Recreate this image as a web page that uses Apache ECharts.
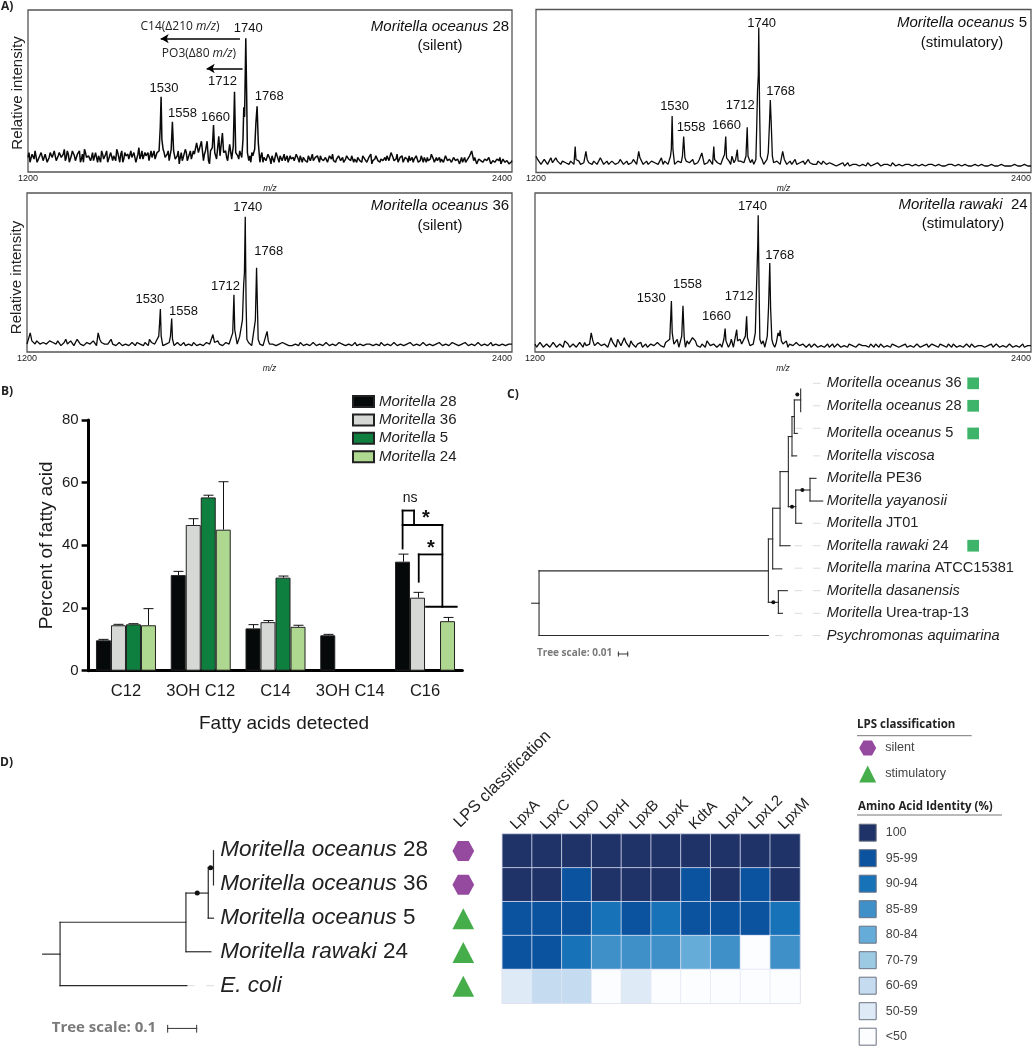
<!DOCTYPE html>
<html><head><meta charset="utf-8">
<script src="https://cdn.jsdelivr.net/npm/echarts@6/dist/echarts.min.js"></script>
<style>html,body{margin:0;padding:0;background:#fff}#c{width:1034px;height:1050px}</style>
</head><body><div id="c"></div>
<script>
// ---------- Panel A: spectra (m/z vs relative intensity) ----------
const spec28Base=[9,6,11,8,12,5,10,13,8,11,7,12,9,13,7,10,12,8,14,9,11,7,13,10,8,12,6,11,14,9,10,7,12,8,13,10,6,11,9,13,8,12,7,10,14,9,11,6,12,10,8,13,9,11,7,15,10,8,12,9,7,13,11,8,12,6,10,14,9,11,7,12,16,8,10,5,12,9,14,7,11,8,13,10,6,12,9,7,13,10,5,11,8,14,9,12,4,10,13,7,11,8,12,6,10,13,9,7,11,5,10,12,8,11,9,6,12,9,7,11,8,10,6,12,8,10,7,11,8,6,10,9,7,11,8,10,6,9,8,10,7,11,6,9,8,10,7,8,10,6,9,11,7,8,10,7,9,6,10,8,7,11,8,6,9,7,10,8,6,9,11,7,8,10,6,8,7,9,10,7,6,9,8,11,7,8,6,9,8,10,7,6,9,8,7,10,6,8,9,7,11,8,6,7,9,8,6,10,7,8,6,9,7,8,5,9,7,6,8,10,6,7,8,5,9,7,6,8,6,7,5,8,6,7,9,5,7,6,8,5,7];
const spec28Fine=[12,7,10,13,6,9,12,7,11,6,9,13,8,10,6,12,9,11,7,13,6,10,12,7,11,13,8,6,12,8,11,9,7,12,6,10,13,8,11,6,9,12,10,7,12,6,13,8,10,11,7,9,12,6,11,8,13,7,10,12,6,9,13,7,11,9,6,12,8,13,9,6,11,7,13,9,7,10,12,6,13,9,11,7,12,8,6,11,9,7,13,6,10,8,12,7,11,5,9,13,6,10,7,12,8,11,6,9,12,7,6,10,8,9,7,10,6,9,8,10,5,9,7,10,6,9,8,7,10,5,8,9,7,10,6,8,9,7,6,10,8,7,9,10,6,8,7,9,6,10,8,7,6,9,10,7,6,8,9,7,10,6,8,9,7,6,10,8,7,9,5,8,10,7,6,9,8,7,10,6,9,7,8,6,9,10,7,8,6,7,9,8,10,6,7,8,9,6,7,8,10,6,9,7,6,8,7,9,6,8,7,10,6,8,7,6,9,7,8,6,7,9,5,8,7,6,8,7,9,5,7,6,8,7,5,8,6,7,5,6];
const spec28Peaks=[[1525,13],[1528,28],[1530,46.4],[1532,20],[1555,14],[1558,31],[1561,13],[1618,18],[1630,19],[1644,19],[1657,15],[1660,29],[1663,12],[1673,22],[1676,10],[1682,24],[1685,12],[1700,17],[1709,16],[1712,49.5],[1715,12],[1733,20],[1735,40],[1737,34],[1740,82.5],[1742,50],[1744,12],[1762,14],[1765,30],[1768,40.6],[1771,18],[2100,12],[2300,13]];
const spec28Labels=[[1746,88.7,1740],[1537,51.9,1530],[1583,36.1,1558],[1665,33.6,1660],[1682,55.7,1712],[1798,46.4,1768]];
const spec5Base=[10,7,6,8,7,6,9,6,7,6,5,8,6,7,5,6,6,5,7,6,8,6,5,7,5,6,7,6,5,6,8,6,7,6,5,7,6,5,6,7,5,6,5,7,6,5,8,6,5,6,7,5,6,7,5,6,5,7,6,5,6,5,7,6,9,6,5,7,6,5,8,5,6,7,5,6,5,7,6,5,6,7,5,6,5,5,6,7,5,6,5,4,5,6,5,4,5,5,4,5,4,5,5,4,5,5,4,5,6,4,5,4,5,5,4,5,4,5,4,5,5,4,5,4,4,5,5,4,5,4,5,4,4,5,4,5,4,4,5,4,4,5,4,4,4,5,4,4,5,4,4];
const spec5Fine=[8,5,8,5,9,5,7,5,8,5,7,5,9,5,6,8,5,7,5,9,5,7,6,8,5,8,5,7,6,8,5,9,5,7,6,8,5,7,5,8,6,7,5,8,5,7,6,8,5,8,6,5,8,5,7,6,8,5,7,6,8,5,6,7,5,8,6,5,8,6,5,7,6,8,5,7,6,5,8,5,7,5,8,6,5,7,5,8,6,5,6,5,5,4,6,5,4,6,5,4,6,4,5,6,4,5,5,4,6,5,4,5,6,4,5,5,4,6,5,4,5,4,6,5,4,5,5,4,6,5,4,5,5,4,5,4,5,5,4,5,5,4,5,5,4,4,5,4,4,5];
const spec5Peaks=[[1295,16],[1297,8],[1321,13],[1449,13],[1504,9],[1526,10],[1528,14],[1530,34.7],[1532,14],[1555,10],[1558,22],[1561,9],[1602,12],[1631,16],[1633,8],[1657,11],[1660,22],[1662,9],[1675,10],[1688,14],[1690,7],[1709,10],[1712,27.8],[1714,10],[1733,8],[1735,27],[1737,50],[1739,60],[1740,89],[1742,40],[1744,10],[1763,12],[1766,30],[1768,44.5],[1770,32],[1773,10],[1798,13],[1802,8]];
const spec5Labels=[[1747,91.4,1740],[1536,40.4,1530],[1576,27.8,1558],[1662,28.8,1660],[1695,41,1712],[1793,49.6,1768]];
const spec36Base=[5,12,6,7,5,6,5,7,6,5,6,5,8,5,6,5,9,6,5,7,5,6,12,6,5,5,8,6,5,5,4,5,4,5,6,5,4,5,5,6,4,5,4,5,6,5,4,7,5,4,5,4,5,5,4,5,6,4,5,7,5,5,6,4,5,5,5,6,4,5,5,4,5,4,5,5,5,4,5,6,5,4,4,5,4,5,5,4,5,5,4,5,5,5,4,5,4,5,5,4,5,5,4,5,4,5,5,4,5,4,5,5,4,5,5,4,5,4,5,5,4,5,4,5,5,5,4,5,5,4,5,4,5,6,4,5,5,4,5,4,5,5,4,5,4,5,4,5,4,5,5];
const spec36Fine=[4,7,5,8,4,7,4,6,5,7,4,6,5,7,4,8,5,4,6,5,7,4,8,5,6,4,5,4,6,4,5,4,6,4,5,4,6,4,6,5,4,6,5,4,5,4,6,4,6,5,4,6,4,5,4,6,5,4,6,5,4,6,5,4,6,4,5,4,6,4,5,4,6,5,4,6,4,5,4,5,6,4,5,4,6,4,5,4,6,4,5,4,6,4,5,4,6,5,4,5,4,6,4,5,4,6,4,5,4,6,4,5,4,6,4,5,4,5,6,4,5,4,6,4,5,4,5,6,4,5,4,6,5,4,5,6,4,5,4,6,4,5,4,6,4,5,4,6,4,5];
const spec36Peaks=[[1503,8],[1526,10],[1528,18],[1530,27],[1532,10],[1555,10],[1558,21],[1560,8],[1660,11],[1664,6],[1709,12],[1712,36],[1714,14],[1726,9.5],[1733,20],[1736,42],[1738,50],[1740,85],[1742,32],[1744,8],[1765,20],[1768,53],[1770,30],[1772,8],[1794,13],[1797,7]];
const spec36Labels=[[1746,91,1740],[1504,33,1530],[1587,25.7,1558],[1691,41,1712],[1798,63,1768]];
const spec24Base=[5,3,6,4,5,3,6,4,5,7,5,4,6,4,5,6,3,12,4,6,4,5,3,9,5,8,4,9,5,7,4,5,6,4,3,5,4,6,4,3,5,6,5,8,4,5,7,6,5,4,3,5,7,4,5,3,5,6,4,5,3,6,8,4,5,4,5,7,5,7,4,3,5,6,4,5,7,5,4,6,4,5,3,5,4,6,3,5,4,3,5,4,5,3,4,5,4,3,5,4,4,3,4,5,3,4,4,3,5,4,3,4,5,4,3,4,5,4,4,3,5,4,3,4,4,5,3,4,4,3,4,4,5,3,4,4,3,4,5,3,4,4,3,4,4,3,4,4,3,4,4];
const spec24Fine=[3,6,3,5,3,6,3,5,3,6,3,5,3,6,3,4,5,7,3,5,3,6,4,6,3,6,3,6,3,5,3,6,3,5,4,6,3,5,3,6,3,4,6,3,6,3,5,3,7,3,5,3,6,3,6,4,3,5,3,6,4,3,5,3,6,3,6,3,5,3,6,4,3,5,3,6,3,6,3,5,3,6,4,3,5,3,4,3,5,4,3,5,3,4,3,5,3,4,5,3,4,5,3,4,5,3,4,3,5,3,4,5,3,4,3,5,3,4,5,3,4,3,5,4,3,4,5,3,4,3,5,3,4,3,5,4,3,4,3,5,3,4,3,5,3,4,3,5,3,4];
const spec24Peaks=[[1526,8],[1528,20],[1530,32],[1532,12],[1555,10],[1558,29],[1561,9],[1581,9],[1584,8],[1657,8],[1660,14.7],[1662,7],[1675,8],[1688,14],[1690,7],[1709,10],[1712,22.5],[1714,9],[1733,12],[1735,32],[1737,50],[1739,68],[1740,86],[1742,42],[1744,8],[1762,10],[1765,28],[1768,56],[1770,28],[1773,8],[1788,12],[1791,10],[1793,13.7],[1796,7]];
const spec24Labels=[[1726,91.6,1740],[1481,34,1530],[1569,42.5,1558],[1639,22.5,1660],[1694,34.7,1712],[1792,60.6,1768]];
const deltaArrows=[[1725.5,82.3,1529,82.3],[1732,63.9,1643,63.9]];

// ---------- Panel B: fatty acids ----------
const fattyAcids=['C12','3OH C12','C14','3OH C14','C16'];
const strainNames=['Moritella 28','Moritella 36','Moritella 5','Moritella 24'];
const m28Values=[9.7,30.5,13.5,11.3,34.8];
const m36Values=[14.5,46.5,15.5,null,23.3];
const m5Values=[14.8,55.3,29.7,null,null];
const m24Values=[14.5,45,14,null,15.8];
const m28Upper=[10,31.7,14.7,11.6,37.2];
const m36Upper=[14.8,48.5,16,null,25];
const m5Upper=[15,56,30.2,null,null];
const m24Upper=[19.8,60.3,14.5,null,17];
const strainColors=['#050909','#d6d8d6','#0f7f40','#aed790'];
const bracketSegs=[[4.2,39,4.2,51.1],[4.2,51.1,4.353,51.1],[4.353,51.1,4.353,46.5],[4.2,46.5,4.732,46.5],[4.732,46.5,4.732,20.4],[4.514,20.4,4.924,20.4],[4.416,28.4,4.416,37.1],[4.416,37.1,4.732,37.1]];
const bracketText=[[4.3,55,'ns',14,'normal'],[4.51,48.5,'*',20,'bold'],[4.58,39,'*',20,'bold']];

// ---------- Panel C: tree (x in 0.01 substitutions, y in leaf rows) ----------
const treeCSegs=[[0,9.79,0.79,9.79],[0.79,8.35,0.79,11.23],[0.79,8.35,25.36,8.35],[0.79,11.23,25.36,11.23],[25.36,6.93,25.36,9.75],[25.36,6.93,25.82,6.93],[25.36,9.75,26.43,9.75],[25.82,5.56,25.82,8.26],[25.82,8.26,26.79,8.26],[25.82,5.56,26.61,5.56],[26.61,3.93,26.61,7.23],[26.61,7.23,27.68,7.23],[26.61,3.93,27.5,3.93],[27.5,2.37,27.5,5.49],[27.5,2.37,27.89,2.37],[27.5,5.49,28.29,5.49],[27.89,1.48,27.89,3.23],[27.89,1.48,28.14,1.48],[27.89,3.23,28.39,3.23],[28.14,0.74,28.14,2.23],[28.14,0.74,28.82,0.74],[28.14,2.23,28.46,2.23],[28.82,0.25,28.82,1.26],[28.29,4.75,28.29,6.23],[28.29,4.75,29.82,4.75],[28.29,6.23,28.93,6.23],[29.82,4.23,29.82,5.24],[29.82,4.23,30.46,4.23],[29.82,5.24,31.18,5.24],[26.43,9.23,26.43,10.24],[26.43,9.23,27.39,9.23],[26.43,10.24,26.86,10.24]];
const treeCDashes=[[30.18,0,30.89,0],[30.18,1,30.89,1],[28.29,2,28.93,2],[30.18,2,30.89,2],[30.18,3.23,30.89,3.23],[30.18,6.23,30.89,6.23],[28.21,7.23,28.93,7.23],[30.18,7.23,30.89,7.23],[28.21,8.23,28.93,8.23],[30.18,8.23,30.89,8.23],[28.21,9.23,28.93,9.23],[30.18,9.23,30.89,9.23],[28.21,10.24,28.93,10.24],[30.18,10.24,30.89,10.24],[26.14,11.23,26.86,11.23],[28.21,11.23,28.93,11.23],[30.18,11.23,30.89,11.23]];
const treeCDots=[[28.46,0.5],[29,4.75],[27.89,5.49],[25.89,9.75]];
const treeCScale=[[9.29,12.05,10.29,12.05],[9.29,11.96,9.29,12.14],[10.29,11.96,10.29,12.14]];
const treeCLeaves=[['{i|Moritella oceanus} 36',0],['{i|Moritella oceanus} 28',1],['{i|Moritella oceanus} 5',2.23],['{i|Moritella viscosa}',3.23],['{i|Moritella} PE36',4.23],['{i|Moritella yayanosii}',5.24],['{i|Moritella} JT01',6.23],['{i|Moritella rawaki} 24',7.23],['{i|Moritella marina} ATCC15381',8.23],['{i|Moritella dasanensis}',9.23],['{i|Moritella} Urea-trap-13',10.24],['{i|Psychromonas aquimarina}',11.23]];
const treeCMarks=[[47.3,0],[47.3,1],[47.3,2.23],[47.3,7.23]];

// ---------- Panel D ----------
const treeDSegs=[[0,3.07,0.6,3.07],[0.6,2.13,0.6,4],[0.6,2.13,4.94,2.13],[0.6,4,4.97,4],[4.94,1.27,4.94,3],[4.94,1.27,5.71,1.27],[4.94,3,5.8,3],[5.71,0.52,5.71,2.01],[5.71,0.52,5.89,0.52],[5.71,2.01,5.89,2.01],[5.89,0.02,5.89,1.03]];
const treeDDashes=[[4.99,4,5.22,4],[5.66,4,5.89,4]];
const treeDDots=[[5.33,1.27],[5.79,0.52]];
const treeDScale=[[4.31,5.26,5.31,5.26],[4.31,5.17,4.31,5.37],[5.31,5.17,5.31,5.37]];
const treeDLeaves=[['{i|Moritella oceanus} 28',0],['{i|Moritella oceanus} 36',1],['{i|Moritella oceanus} 5',2],['{i|Moritella rawaki} 24',3],['{i|E. coli}',4]];
const genes=['LpxA','LpxC','LpxD','LpxH','LpxB','LpxK','KdtA','LpxL1','LpxL2','LpxM'];
const species=['Moritella oceanus 28','Moritella oceanus 36','Moritella oceanus 5','Moritella rawaki 24','E. coli'];
const identity28=[100,100,100,100,100,100,100,100,100,100];
const identity36=[100,100,97,100,100,100,97,100,97,100];
const identity5=[97,97,97,92,97,92,97,97,97,92];
const identity24=[97,97,92,87,87,87,82,87,45,87];
const identityEcoli=[55,65,65,40,55,40,40,40,40,40];
const lpsClass=['silent','silent','stimulatory','stimulatory','stimulatory'];
const identityLabels=['100','95-99','90-94','85-89','80-84','70-79','60-69','50-59','<50'];
const identityColors=['#1f3368','#0b539f','#1872b8','#3f90c8','#66acd8','#9ccae3','#c5dbef','#deeaf6','#fbfdff'];

// ---------- helpers ----------
const SANS='"Liberation Sans",Arial,sans-serif', BOLD='"Open Sans",sans-serif';
const HEX='path://M0 50 L25 0 L75 0 L100 50 L75 100 L25 100 Z';
const grid=[],xAxis=[],yAxis=[],series=[],graphic=[];
function addGrid(g,x,y){grid.push(g);xAxis.push(Object.assign({gridIndex:grid.length-1},x));yAxis.push(Object.assign({gridIndex:grid.length-1},y));return grid.length-1;}
function hiddenValue(min,max,inverse){return {type:'value',min,max,inverse:!!inverse,show:false,splitLine:{show:false}};}
function note(text,x,y,o){o=o||{};graphic.push({type:'text',x,y,silent:true,style:{text,align:o.align||'left',verticalAlign:'middle',fill:o.color||'#111',fontSize:o.size||14,fontFamily:o.family||SANS,fontWeight:o.weight||'normal',rich:{i:{fontStyle:'italic',fontSize:o.size||14,fontFamily:o.family||SANS,fill:o.color||'#111'}}}});}
function rule(x1,y,x2){graphic.push({type:'line',silent:true,shape:{x1,y1:y,x2,y2:y},style:{stroke:'#777',lineWidth:1}});}
function mergeSpectrum(base,fine,step,peaks){
  const coarse=base.map((v,i)=>[1200+i*step,v]);
  const between=fine.map((v,i)=>[1200+(i+0.5)*step,v]);
  const pts=coarse.concat(between).filter(p=>!peaks.some(q=>Math.abs(q[0]-p[0])<3));
  return pts.concat(peaks).sort((a,b)=>a[0]-b[0]);
}
function segmentSeries(g,data,color,width,z){
  series.push({type:'custom',xAxisIndex:g,yAxisIndex:g,data,silent:true,z:z||3,encode:{x:[0,2],y:[1,3]},animation:false,
    renderItem(p,api){const a=api.coord([api.value(0),api.value(1)]),b=api.coord([api.value(2),api.value(3)]);
      return {type:'line',shape:{x1:a[0],y1:a[1],x2:b[0],y2:b[1]},style:{stroke:color,lineWidth:width,lineCap:'square'}};}});
}
function textSeries(g,data,size,color,family,weight,pos,dist){
  series.push({type:'scatter',xAxisIndex:g,yAxisIndex:g,data,symbolSize:1,silent:true,itemStyle:{color:'transparent',opacity:1},z:5,
    label:{show:true,position:pos||'inside',distance:dist==null?0:dist,formatter:p=>p.data[2],fontSize:size,color,fontFamily:family||SANS,fontWeight:weight||'normal',
      rich:{i:{fontStyle:'italic',fontSize:size,color,fontFamily:family||SANS}}}});
}
function spectrum(box,base,fine,step,peaks,labels,axisName,lineWidth,namePad,arrows){
  const g=addGrid({left:box[0],top:box[1],width:box[2],height:box[3],show:true,borderColor:'#555',borderWidth:1.3,backgroundColor:'#fff'},
    {type:'value',min:1200,max:2400,interval:1200,name:'m/z',nameLocation:'middle',nameGap:6,nameTextStyle:{fontStyle:'italic',fontSize:8.5,color:'#222',fontFamily:SANS},
     axisLine:{show:false},axisTick:{show:false},splitLine:{show:false},axisLabel:{fontSize:9,color:'#222',fontFamily:SANS,margin:2,alignMaxLabel:'right',formatter:v=>String(v)}},
    {type:'value',min:0,max:100,name:axisName,nameLocation:'middle',nameGap:3,nameTextStyle:{fontSize:15,color:'#222',fontFamily:SANS,padding:[0,namePad,0,0]},axisLine:{show:false},axisTick:{show:false},splitLine:{show:false},axisLabel:{show:false}});
  const s={type:'line',xAxisIndex:g,yAxisIndex:g,data:mergeSpectrum(base,fine,step,peaks),showSymbol:false,symbol:'none',silent:true,lineStyle:{color:'#0a0a0a',width:lineWidth},z:3};
  if(arrows){s.markLine={silent:true,symbol:['none','arrow'],symbolSize:[7,8],label:{show:false},lineStyle:{color:'#000',width:1.5,type:'solid'},
    data:arrows.map(a=>[{coord:[a[0],a[1]]},{coord:[a[2],a[3]]}])};}
  series.push(s);
  textSeries(g,labels.map(l=>[l[0],l[1],String(l[2])]),13,'#111');
}

// ---------- Panel A ----------
spectrum([28,10,484,162],spec28Base,spec28Fine,5,spec28Peaks,spec28Labels,'Relative intensity',1.5,4,deltaArrows);
spectrum([536,9.5,497,163],spec5Base,spec5Fine,8,spec5Peaks,spec5Labels,'',1.3,0);
spectrum([27,193,485,159],spec36Base,spec36Fine,8,spec36Peaks,spec36Labels,'Relative intensity',1.3,10);
spectrum([535,193,498,159],spec24Base,spec24Fine,8,spec24Peaks,spec24Labels,'',1.3,0);
note('{i|Moritella oceanus} 28',440,26.7,{size:15,align:'center'});note('(silent)',440,45.7,{size:15,align:'center'});
note('{i|Moritella oceanus} 5',962,23,{size:15,align:'center'});note('(stimulatory)',962,43,{size:15,align:'center'});
note('{i|Moritella oceanus} 36',440,206,{size:15,align:'center'});note('(silent)',440,225.7,{size:15,align:'center'});
note('{i|Moritella rawaki}  24',963,205,{size:15,align:'center'});note('(stimulatory)',963,224,{size:15,align:'center'});
note('C14(Δ210 {i|m/z})',180,27,{size:12,align:'center',family:'"Open Sans",sans-serif',color:'#222'});
note('PO3(Δ80 {i|m/z})',199,54,{size:12,align:'center',family:'"Open Sans",sans-serif',color:'#222'});

// panel labels
[['A)',1,7],['B)',1,392],['C)',507,395],['D)',0,763]].forEach(l=>note(l[0],l[1],l[2],{size:12,weight:'bold',family:BOLD,color:'#222'}));

// ---------- Panel B ----------
const gB=addGrid({left:88.6,top:420,width:373.8,height:250.7},
  {type:'category',data:fattyAcids,axisLine:{lineStyle:{color:'#000',width:3}},axisTick:{alignWithLabel:true,length:8,lineStyle:{color:'#000',width:2.5}},
   axisLabel:{fontSize:16.5,color:'#1a1a1a',fontFamily:SANS,margin:12,interval:0},name:'Fatty acids detected',nameLocation:'middle',nameGap:44,
   nameTextStyle:{fontSize:19,color:'#1a1a1a',fontFamily:SANS,padding:[0,0,0,17]}},
  {type:'value',min:0,max:80,interval:20,splitLine:{show:false},axisLine:{show:true,lineStyle:{color:'#000',width:3}},axisTick:{show:true,length:7,lineStyle:{color:'#000',width:2.5}},
   axisLabel:{fontSize:15,color:'#1a1a1a',fontFamily:SANS,margin:10},name:'Percent of fatty acid',nameLocation:'middle',nameGap:32,nameTextStyle:{fontSize:19,color:'#1a1a1a',fontFamily:SANS}});
const barW=15;
[m28Values,m36Values,m5Values,m24Values].forEach((vals,i)=>{
  series.push({type:'bar',name:strainNames[i],xAxisIndex:gB,yAxisIndex:gB,data:vals,barWidth:barW,barGap:0,itemStyle:{color:strainColors[i],borderColor:'#222',borderWidth:1},z:2,silent:true});
});
[m28Upper,m36Upper,m5Upper,m24Upper].forEach((ups,k)=>{
  const low=[m28Values,m36Values,m5Values,m24Values][k];
  series.push({type:'custom',xAxisIndex:gB,yAxisIndex:gB,silent:true,z:1,encode:{x:0,y:[1,2]},
    data:ups.map((u,i)=>u==null?null:[i,low[i],u]).filter(Boolean),
    renderItem(p,api){const a=api.coord([api.value(0),api.value(1)]),b=api.coord([api.value(0),api.value(2)]);const x=Math.round(a[0]+(k-1.5)*barW)+0.5;
      return {type:'group',children:[{type:'line',shape:{x1:x,y1:a[1],x2:x,y2:b[1]},style:{stroke:'#111',lineWidth:1}},{type:'line',shape:{x1:x-5,y1:b[1],x2:x+5,y2:b[1]},style:{stroke:'#111',lineWidth:1}}]};}});
});
// overlay value scale on the same rectangle, for the significance brackets
const gBo=addGrid({left:88.6,top:420,width:373.8,height:250.7},hiddenValue(0,5),hiddenValue(0,80));
segmentSeries(gBo,bracketSegs,'#000',1.8,6);
bracketText.forEach(t=>textSeries(gBo,[[t[0],t[1],t[2]]],t[3],'#111',SANS,t[4]));

// ---------- Panel C ----------
const gC=addGrid({left:531.67,top:383.33,width:466.7,height:292},hiddenValue(0,50),hiddenValue(0,13,true));
segmentSeries(gC,treeCDashes,'#dcdcdc',1);
segmentSeries(gC,treeCSegs,'#2b2b2b',1.1);
segmentSeries(gC,treeCScale,'#333',1);
series.push({type:'scatter',xAxisIndex:gC,yAxisIndex:gC,data:treeCDots,symbolSize:4,itemStyle:{color:'#111',opacity:1},silent:true,z:4});
series.push({type:'scatter',xAxisIndex:gC,yAxisIndex:gC,data:treeCMarks,symbol:'rect',symbolSize:11.7,itemStyle:{color:'#3eb46b',opacity:1},silent:true,z:4});
textSeries(gC,treeCLeaves.map(l=>[31.57,l[1],l[0]]),14.6,'#222',SANS,'normal','right',0);
textSeries(gC,[[8.68,12.03,'Tree scale: 0.01']],10,'#7a7a7a',BOLD,'bold','left',0);

// ---------- Panel D ----------
const gD=addGrid({left:42.67,top:850,width:290,height:186.56},hiddenValue(0,10),hiddenValue(0,5.5,true));
segmentSeries(gD,treeDDashes,'#dcdcdc',1);
segmentSeries(gD,treeDSegs,'#2b2b2b',1.2);
segmentSeries(gD,treeDScale,'#333',1);
series.push({type:'scatter',xAxisIndex:gD,yAxisIndex:gD,data:treeDDots,symbolSize:5,itemStyle:{color:'#111',opacity:1},silent:true,z:4});
textSeries(gD,treeDLeaves.map(l=>[6.11,l[1],l[0]]),22.5,'#222',SANS,'normal','right',0);
textSeries(gD,[[3.93,5.25,'Tree scale: 0.1']],15,'#7a7a7a',BOLD,'bold','left',0);

// LPS class column
const hiddenRows={type:'category',data:species,inverse:true,axisLine:{show:false},axisTick:{show:false},axisLabel:{show:false},splitLine:{show:false}};
function headerAxis(left,width,cats,size,margin){
  addGrid({left,top:834,width,height:169.3},
    {type:'category',position:'top',data:cats,axisLine:{show:false},axisTick:{show:false},axisLabel:{rotate:-45,fontSize:size,color:'#222',fontFamily:SANS,margin,interval:0}},hiddenRows);
}
const silentAxis=o=>Object.assign({axisLine:{show:false},axisTick:{show:false},axisLabel:{show:false}},o);
headerAxis(441.8,30,['LPS classification'],16.5,9);
const gL=addGrid({left:448.3,top:834,width:30,height:169.3},silentAxis({type:'category',position:'top',data:['LPS classification']}),hiddenRows);
series.push({type:'scatter',xAxisIndex:gL,yAxisIndex:gL,silent:true,z:4,
  data:lpsClass.map((c,i)=>({value:['LPS classification',species[i]],symbol:c==='silent'?HEX:'triangle',symbolSize:c==='silent'?[21.7,20]:[21.7,21],itemStyle:{color:c==='silent'?'#954a9f':'#45ae4a',opacity:1}}))});

// Heatmap
headerAxis(498.3,297.7,genes,15,7);
const gH=addGrid({left:502.3,top:834,width:297.7,height:169.3,show:true,borderColor:'#c8c8c8',borderWidth:1},silentAxis({type:'category',position:'top',data:genes}),hiddenRows);
const heat=[];
[identity28,identity36,identity5,identity24,identityEcoli].forEach((row,r)=>row.forEach((v,c)=>heat.push([c,r,v])));
const heatIndex=series.length;
series.push({type:'heatmap',xAxisIndex:gH,yAxisIndex:gH,data:heat,silent:true,itemStyle:{borderColor:'rgba(225,230,245,0.75)',borderWidth:1}});

// Legends
const gLL=addGrid({left:867.7,top:748,width:100,height:26},hiddenValue(0,1),hiddenValue(0,1,true));
series.push({type:'scatter',xAxisIndex:gLL,yAxisIndex:gLL,silent:true,z:4,
  data:[{value:[0,0],name:'silent',symbol:HEX,symbolSize:[17,15],itemStyle:{color:'#954a9f',opacity:1}},{value:[0,1],name:'stimulatory',symbol:'triangle',symbolSize:[17,17],itemStyle:{color:'#45ae4a',opacity:1}}],
  label:{show:true,position:'right',distance:9,formatter:'{b}',fontSize:12.6,color:'#444',fontFamily:SANS}});
const gIL=addGrid({left:867.7,top:832.7,width:100,height:204},hiddenValue(0,1),hiddenValue(0,8,true));
series.push({type:'scatter',xAxisIndex:gIL,yAxisIndex:gIL,silent:true,z:4,
  data:identityLabels.map((l,i)=>({value:[0,i],name:l,itemStyle:{color:identityColors[i],opacity:1}})),symbol:'rect',symbolSize:17,
  itemStyle:{borderColor:'#6b7280',borderWidth:1,opacity:1},
  label:{show:true,position:'right',distance:9,formatter:'{b}',fontSize:12.5,color:'#444',fontFamily:SANS}});
note('LPS classification',857,725,{size:11.5,weight:'bold',family:BOLD,color:'#222'});rule(857,735.7,971.7);
note('Amino Acid Identity (%)',858,807,{size:11.5,weight:'bold',family:BOLD,color:'#222'});rule(857,815,1002);

const chart=echarts.init(document.getElementById('c'),null,{renderer:'canvas',width:1034,height:1050});
chart.setOption({
  animation:false,backgroundColor:'#fff',grid,xAxis,yAxis,series,graphic,
  legend:{show:true,data:strainNames,orient:'vertical',left:347,top:389,icon:'rect',itemWidth:21,itemHeight:11,itemGap:3.4,selectedMode:false,
    formatter:n=>'{i|Moritella} '+n.split(' ')[1],
    textStyle:{fontSize:15,color:'#222',fontFamily:SANS,rich:{i:{fontStyle:'italic',fontSize:15,color:'#222',fontFamily:SANS}}}},
  visualMap:{type:'piecewise',show:false,seriesIndex:heatIndex,dimension:2,pieces:[
    {gte:100,color:identityColors[0]},{gte:95,lt:100,color:identityColors[1]},{gte:90,lt:95,color:identityColors[2]},{gte:85,lt:90,color:identityColors[3]},
    {gte:80,lt:85,color:identityColors[4]},{gte:70,lt:80,color:identityColors[5]},{gte:60,lt:70,color:identityColors[6]},{gte:50,lt:60,color:identityColors[7]},{lt:50,color:identityColors[8]}]}
});
</script></body></html>
